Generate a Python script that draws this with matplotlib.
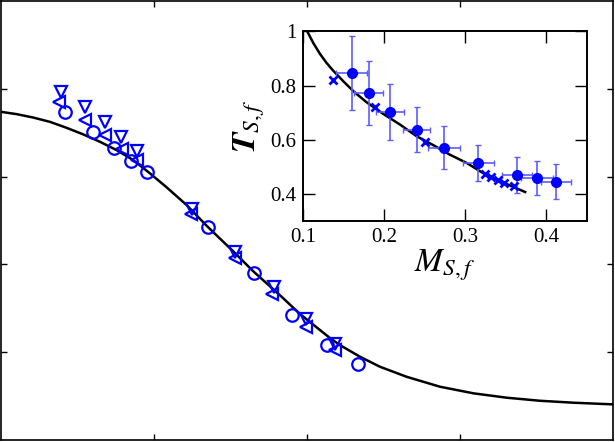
import numpy as np
import matplotlib
matplotlib.use('Agg')
import matplotlib.pyplot as plt

plt.rcParams['font.family'] = ['Liberation Serif', 'DejaVu Serif']
plt.rcParams['mathtext.fontset'] = 'stix'

# main panel: scaled data (three marker sets) and the scaling curve
curve_x = [0.000, 0.101, 0.208, 0.319, 0.428, 0.537, 0.646, 0.755, 0.863,
           0.973, 1.082, 1.212, 1.345, 1.528, 1.646, 1.842, 1.953, 2.149,
           2.214, 2.345, 2.476, 2.650, 2.868, 3.086, 3.304, 3.522, 3.741,
           4.000]
curve_y = [3.737, 3.711, 3.673, 3.623, 3.555, 3.480, 3.396, 3.301, 3.188,
           3.036, 2.877, 2.676, 2.437, 2.130, 1.925, 1.618, 1.436, 1.163,
           1.083, 0.950, 0.836, 0.722, 0.609, 0.534, 0.484, 0.449, 0.427,
           0.408]

circ_x = [0.42, 0.60, 0.74, 0.85, 0.95, 1.35, 1.65, 1.90, 2.13, 2.33]
circ_y = [3.74, 3.51, 3.33, 3.18, 3.05, 2.43, 1.90, 1.42, 1.08, 0.87]

down_x = [0.39, 0.55, 0.68, 0.78, 0.89, 1.25, 1.53, 1.78, 1.99, 2.18]
down_y = [3.96, 3.79, 3.62, 3.45, 3.29, 2.63, 2.14, 1.74, 1.38, 1.09]

left_x = [0.38, 0.55, 0.68, 0.79, 0.89, 1.24, 1.53, 1.77, 1.99, 2.18]
left_y = [3.85, 3.64, 3.47, 3.31, 3.19, 2.57, 2.07, 1.66, 1.29, 1.03]

# inset: T_Sf vs M_Sf
ms_x = [0.160, 0.181, 0.207, 0.240, 0.274, 0.316, 0.364, 0.389, 0.412]
ms_y = [0.847, 0.773, 0.702, 0.637, 0.570, 0.515, 0.470, 0.459, 0.445]
ms_xerr = [0.019, 0.018, 0.017, 0.017, 0.020, 0.019, 0.018, 0.020, 0.018]
ms_yerr = [0.137, 0.119, 0.104, 0.084, 0.079, 0.067, 0.068, 0.063, 0.065]

cross_x = [0.137, 0.189, 0.250, 0.324, 0.332, 0.340, 0.348, 0.360]
cross_y = [0.821, 0.721, 0.592, 0.475, 0.461, 0.452, 0.441, 0.430]

inset_cx = [0.105, 0.1125, 0.1207, 0.129, 0.137, 0.1495, 0.162, 0.178,
            0.199, 0.2195, 0.240, 0.2606, 0.281, 0.302, 0.322, 0.343, 0.374]
inset_cy = [1.000, 0.957, 0.917, 0.883, 0.855, 0.816, 0.779, 0.739,
            0.695, 0.656, 0.613, 0.580, 0.545, 0.514, 0.477, 0.447, 0.407]

blue = '#0000ff'

fig = plt.figure(figsize=(6.15, 4.42), dpi=100)
ax = fig.add_axes([0.002, 0.004, 0.995, 0.994])
ax.plot(curve_x, curve_y, color='black', lw=1.8, zorder=1)
mk = dict(linestyle='none', mfc='none', mec=blue, mew=1.6, ms=9, zorder=2)
ax.plot(down_x, down_y, marker='v', **mk)
ax.plot(left_x, left_y, marker='<', **mk)
ax.plot(circ_x, circ_y, marker='o', **mk)
ax.set_xlim(0, 4)
ax.set_ylim(0, 5)
ax.set_xticks([1, 2, 3])
ax.set_yticks([1, 2, 3, 4])
ax.tick_params(direction='in', top=True, right=True, length=4.5, width=1,
               labelbottom=False, labelleft=False)
for s in ax.spines.values():
    s.set_linewidth(1.2)

ins = fig.add_axes([0.493, 0.5, 0.461, 0.429])
ins.plot(inset_cx, inset_cy, color='black', lw=1.8, zorder=1)
ins.errorbar(ms_x, ms_y, xerr=ms_xerr, yerr=ms_yerr, fmt='none',
             ecolor='#5c5cff', elinewidth=1.2, capsize=2.5, zorder=2)
ins.plot(ms_x, ms_y, 'o', color=blue, ms=7, zorder=3)
ins.plot(cross_x, cross_y, 'x', color=blue, ms=6, mew=2, zorder=3)
ins.set_xlim(0.1, 0.45)
ins.set_ylim(0.3, 1.0)
ins.set_xticks([0.1, 0.2, 0.3, 0.4])
ins.set_xticklabels(['0.1', '0.2', '0.3', '0.4'])
ins.set_yticks([0.4, 0.6, 0.8, 1.0])
ins.set_yticklabels(['0.4', '0.6', '0.8', '1'])
ins.tick_params(direction='in', top=True, right=True, length=8.5, width=1,
                labelsize=15, pad=5)
for s in ins.spines.values():
    s.set_linewidth(1.4)
ins.set_xlabel(r'$M_{S,f}$', fontsize=24, labelpad=0)
ins.set_ylabel(r'$\mathbfit{T}_{S,f}$', fontsize=24, labelpad=2)

fig.savefig('out.png', dpi=100)
